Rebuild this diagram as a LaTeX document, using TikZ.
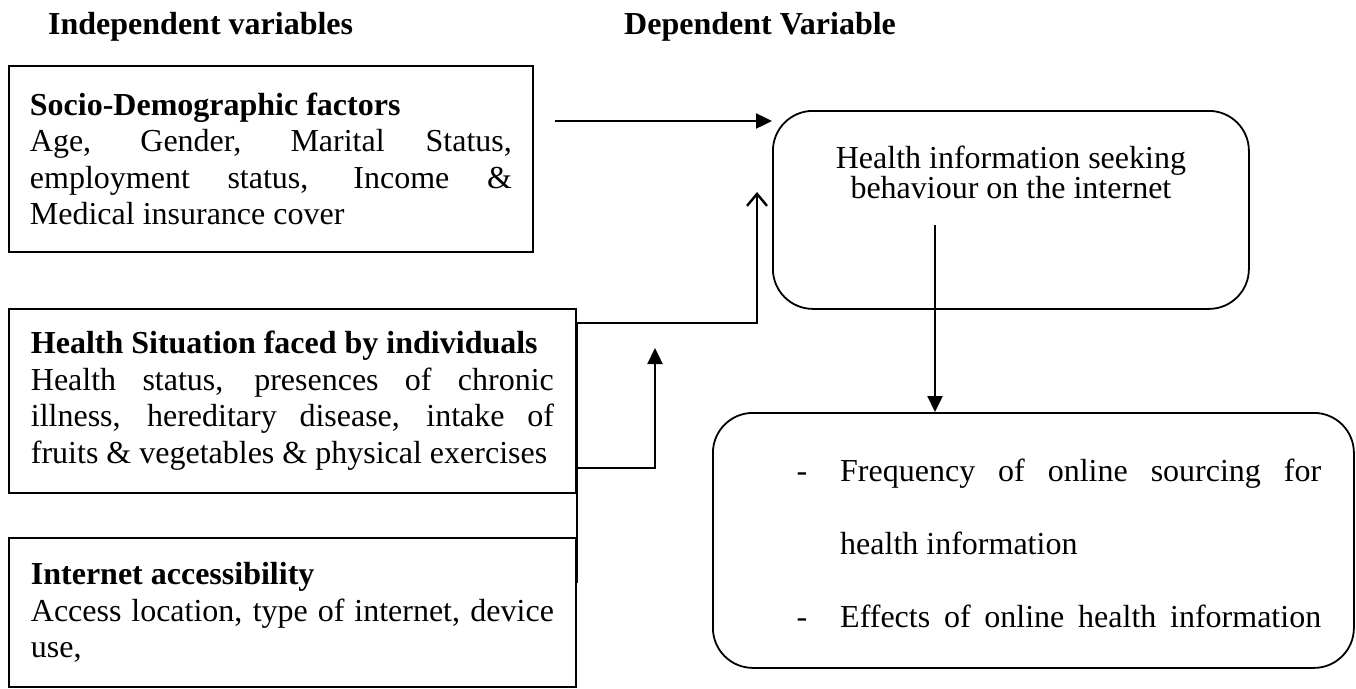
\documentclass[tikz,border=0pt]{standalone}
\usepackage{fontspec}
\setmainfont{Liberation Serif}
\usetikzlibrary{positioning, arrows.meta}
\newcommand{\bodysize}{\fontsize{32}{36.5}\selectfont}
\tikzset{
    %Define style for boxes
    varbox/.style={
           rectangle,
           draw=black, line width=1.8pt,
           anchor=north west,
           align=justify,
           font=\bodysize,
           inner ysep=0pt},
 %
    roundbox/.style={
           rectangle,
           rounded corners=40pt,
           draw=black, line width=1.8pt,
           anchor=north west},
 %
    heading/.style={
           font=\fontsize{32}{36}\selectfont\bfseries,
           anchor=base west,
           inner sep=0pt},
 %
    % Define arrow style
    arrow/.style={
           -{Triangle[length=16pt,width=15pt]},
           line width=2.4pt},
    openarrow/.style={
           -{Straight Barb[length=12pt,width=20pt]},
           line width=2.4pt},
    link/.style={
           line width=2.4pt}
}

\begin{document}
\begin{tikzpicture}[x=1pt,y=-1pt]
  \useasboundingbox (0,0) rectangle (1356,688);

  \node[heading] (indep) at (48,34) {Independent variables};
  \node[heading] (dep) at (624,34) {Dependent Variable};

  % independent variables
  \node[varbox, text width=482pt, inner xsep=21pt, minimum width=524pt, minimum height=186pt] (socio) at (8,65)
    {\textbf{Socio-Demographic factors}\\
     Age, Gender, Marital Status,\linebreak employment status, Income \&\linebreak Medical insurance cover};
  \node[varbox, text width=523pt, inner xsep=22pt, minimum width=567pt, minimum height=184pt] (health) at (8,308)
    {\textbf{Health Situation faced by individuals}\\
     Health status, presences of chronic\linebreak illness, hereditary disease, intake of\linebreak fruits \& vegetables \& physical exercises};
  \node[varbox, text width=523pt, inner xsep=22pt, minimum width=567pt, minimum height=149pt] (access) at (8,537)
    {\textbf{Internet accessibility}\\
     Access location, type of internet, device\linebreak use,};

  % dependent variable
  \node[roundbox, minimum width=476pt, minimum height=198pt] (behaviour) at (772,110) {};
  \node[below=36pt of behaviour.north, align=center, inner sep=0pt, font=\fontsize{32}{28}\selectfont] (behaviourtext)
    {Health information seeking\\behaviour on the internet};
  \node[roundbox, minimum width=641pt, minimum height=255pt] (outcomes) at (712,412) {};
  \node[below right=47pt and 128pt of outcomes.north west, anchor=north west, text width=481pt, align=justify, inner sep=0pt,
        font=\fontsize{32}{73}\selectfont] (outlist)
    {\noindent\llap{-\hspace{33pt}}Frequency of online sourcing for\linebreak health information\par
     \noindent\llap{-\hspace{33pt}}Effects of online health information\parfillskip=0pt\par};

  % connectors
  \coordinate (sociotail) at (555,121);
  \coordinate (situationtip) at (757,192);
  \coordinate (healthtip) at (655,348);
  \coordinate (behaviourout) at (935,225);

  \draw[arrow] (sociotail) -- (sociotail -| behaviour.west);
  \draw[link] ([yshift=-46pt]access.north east) -- ([yshift=-15pt]health.north east);
  \draw[openarrow] ([yshift=-15pt]health.north east) -| (situationtip);
  \draw[arrow] ([yshift=26pt]health.south east) -| (healthtip);
  \draw[arrow] (behaviourout) -- (behaviourout |- outcomes.north);
\end{tikzpicture}
\end{document}
